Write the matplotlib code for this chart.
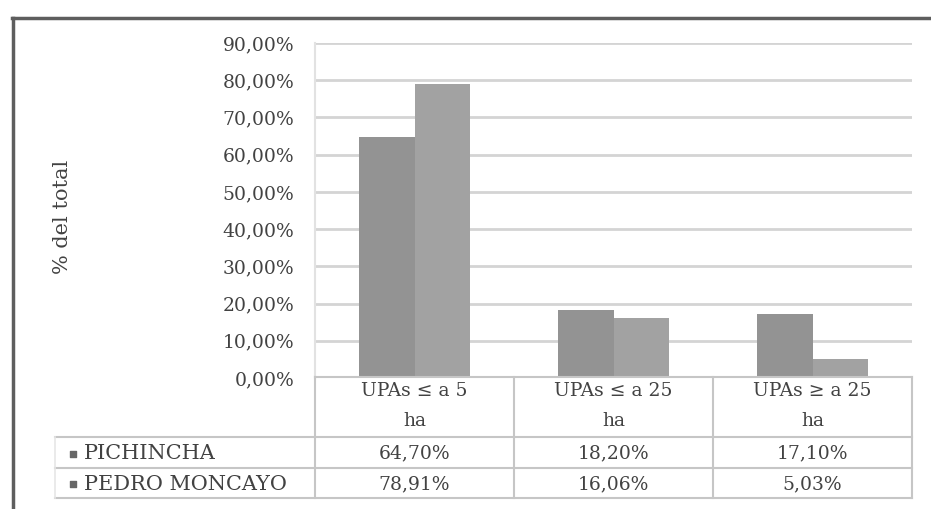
import matplotlib

matplotlib.use("Agg")
import matplotlib.pyplot as plt
import numpy as np

plt.rcParams["font.family"] = ["DejaVu Serif"]

# data
categories = ["UPAs \u2264 a 5\nha", "UPAs \u2264 a 25\nha", "UPAs \u2265 a 25\nha"]
series_names = ["PICHINCHA", "PEDRO MONCAYO"]
pichincha = [64.70, 18.20, 17.10]
pedro_moncayo = [78.91, 16.06, 5.03]
pichincha_labels = ["64,70%", "18,20%", "17,10%"]
pedro_labels = ["78,91%", "16,06%", "5,03%"]
yticks = list(range(0, 91, 10))

colors = ["#939393", "#a2a2a2"]
text_color = "#424242"
grid_color = "#d4d4d4"
line_color = "#c6c6c6"

W, H = 931, 509
fig = plt.figure(figsize=(W / 100, H / 100), dpi=100)
fig.patch.set_facecolor("white")

# plot area in pixel terms
left, right, top, bottom = 315, 912, 43, 378
ax = fig.add_axes([left / W, 1 - bottom / H, (right - left) / W, (bottom - top) / H])

x = np.arange(len(categories))
width = 0.28
ax.bar(x - width / 2, pichincha, width, color=colors[0], zorder=3)
ax.bar(x + width / 2, pedro_moncayo, width, color=colors[1], zorder=3)

ax.set_xlim(-0.5, len(categories) - 0.5)
ax.set_ylim(0, 90)
ax.set_yticks(yticks)
ax.set_yticklabels([f"{v},00%" for v in yticks], fontsize=13.5, color=text_color)
ax.tick_params(axis="y", length=0, pad=15)
ax.set_xticks([])
ax.yaxis.grid(True, color=grid_color, linewidth=2)
ax.set_axisbelow(True)
for side in ["top", "right", "bottom"]:
    ax.spines[side].set_visible(False)
ax.spines["left"].set_color("#e2e2e2")
ax.spines["left"].set_linewidth(1.5)

# overlay in pixel coordinates for the data table and outer frame
ov = fig.add_axes([0, 0, 1, 1], zorder=5)
ov.set_xlim(0, W)
ov.set_ylim(H, 0)
ov.axis("off")
ov.patch.set_alpha(0)

# outer frame (top and left edge of the scanned box)
ov.plot([12, W], [18, 18], color="#5e5e5e", lw=2.5)
ov.plot([13, 13], [18, H], color="#5e5e5e", lw=2.5)

# y label
ov.text(63, 217, "% del total", rotation=90, ha="center", va="center",
        fontsize=15, color=text_color)

# column centres taken from the bar axis
fig.canvas.draw()
centres = [ax.transData.transform((i, 0))[0] for i in x]
edges = [ax.transData.transform((i - 0.5, 0))[0] for i in x] + [
    ax.transData.transform((x[-1] + 0.5, 0))[0]]

tbl_top, tbl_leg, tbl_mid, tbl_bot = 377, 437, 468, 498
tbl_left = 55
ov.plot([left, right], [tbl_top, tbl_top], color=line_color, lw=1.5)
for yy in [tbl_leg, tbl_mid, tbl_bot]:
    ov.plot([tbl_left, right], [yy, yy], color=line_color, lw=1.5)
for xx in edges:
    ov.plot([xx, xx], [tbl_top, tbl_bot], color=line_color, lw=1.5)
ov.plot([tbl_left, tbl_left], [tbl_leg, tbl_bot], color="#e6e6e6", lw=1.2)

for cx, cat in zip(centres, categories):
    line1, line2 = cat.split("\n")
    ov.text(cx, 391, line1, ha="center", va="center", fontsize=13.5, color=text_color)
    ov.text(cx, 421, line2, ha="center", va="center", fontsize=13.5, color=text_color)

row_y = [(tbl_leg + tbl_mid) / 2 + 1, (tbl_mid + tbl_bot) / 2 + 1]
for ry, name, labels in zip(row_y, series_names, [pichincha_labels, pedro_labels]):
    ov.scatter([73], [ry], marker="s", s=24, color="#666666", zorder=6)
    ov.text(84, ry, name, ha="left", va="center", fontsize=15, color=text_color)
    for cx, lab in zip(centres, labels):
        ov.text(cx, ry, lab, ha="center", va="center", fontsize=13.5, color=text_color)

fig.savefig("out.png", dpi=100)
